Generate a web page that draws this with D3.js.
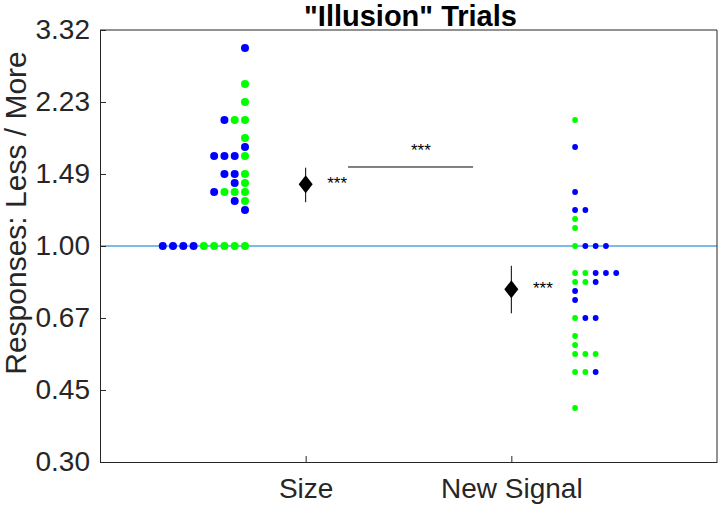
<!DOCTYPE html>
<html>
<head>
<meta charset="utf-8">
<script src="https://cdn.jsdelivr.net/npm/d3@7"></script>
<style>
  body { margin: 0; background: #fff; }
  text { font-family: "Liberation Sans", Arial, sans-serif; }
</style>
</head>
<body>
<div id="chart"></div>
<script>
// categories + tick labels
var categories = ["Size", "New Signal"];
var yTicks = [0.30, 0.45, 0.67, 1.00, 1.49, 2.23, 3.32];

// individual ratios per condition
var sizeBlue  = [3.00, 2.01, 1.73, 1.65, 1.65, 1.65, 1.49, 1.49, 1.42, 1.35, 1.28, 1.22, 1, 1, 1, 1];
var sizeGreen = [2.46, 2.23, 2.01, 2.01, 1.82, 1.65, 1.49, 1.42, 1.35, 1.35, 1.35, 1.28, 1, 1, 1, 1, 1];
var newBlue   = [1.73, 1.35, 1.22, 1.22, 1, 1, 1, 0.86, 0.86, 0.86, 0.82, 0.78, 0.74, 0.67, 0.67, 0.50];
var newGreen  = [2.01, 1.16, 1.11, 1, 0.86, 0.86, 0.82, 0.82, 0.67, 0.61, 0.58, 0.55, 0.55, 0.55, 0.50, 0.50, 0.41];

// group means with error bars
var means  = [1.41, 0.786];
var errLow = [1.275, 0.688];
var errHigh = [1.545, 0.896];

var margin = {top: 30, right: 6, bottom: 47, left: 100};
var width = 723 - margin.left - margin.right,
    height = 509 - margin.top - margin.bottom;

var svg = d3.select("#chart").append("svg")
    .attr("width", 723)
    .attr("height", 509);

var g = svg.append("g")
    .attr("transform", "translate(" + margin.left + "," + margin.top + ")");

var x = d3.scaleLinear().domain([0, 3]).range([0, width]);
var y = d3.scaleLog().domain([Math.exp(-1.2), Math.exp(1.2)]).range([height, 0]);

var blue = "#0000ff", green = "#00ff00";

// reference line at 1
g.append("line")
    .attr("x1", 0).attr("x2", width)
    .attr("y1", y(1)).attr("y2", y(1))
    .attr("stroke", "#4fa3e2")
    .attr("stroke-width", 1.3);

// stack the points into rows (binned in log space), green nearest the anchor
function swarm(greens, blues, anchor, dir, r) {
    var rows = {};
    greens.forEach(function(v) {
        var k = Math.round(Math.log(v) / 0.05);
        (rows[k] = rows[k] || []).push(green);
    });
    blues.forEach(function(v) {
        var k = Math.round(Math.log(v) / 0.05);
        (rows[k] = rows[k] || []).push(blue);
    });
    var pts = [];
    Object.keys(rows).forEach(function(k) {
        rows[k].forEach(function(c, i) {
            pts.push({x: anchor + dir * i * 0.05, v: Math.exp(k * 0.05), c: c, r: r});
        });
    });
    return pts;
}

var points = swarm(sizeGreen, sizeBlue, 1 - 0.295, -1, 4)
    .concat(swarm(newGreen, newBlue, 2 + 0.31, 1, 2.9));

g.selectAll(".dot")
    .data(points)
    .enter().append("circle")
    .attr("class", "dot")
    .attr("cx", function(d) { return x(d.x); })
    .attr("cy", function(d) { return y(d.v); })
    .attr("r", function(d) { return d.r; })
    .attr("fill", function(d) { return d.c; });

// means: error bar + diamond
var meanData = means.map(function(m, i) {
    return {x: i + 1, m: m, lo: errLow[i], hi: errHigh[i]};
});

g.selectAll(".err")
    .data(meanData)
    .enter().append("line")
    .attr("class", "err")
    .attr("x1", function(d) { return x(d.x); })
    .attr("x2", function(d) { return x(d.x); })
    .attr("y1", function(d) { return y(d.lo); })
    .attr("y2", function(d) { return y(d.hi); })
    .attr("stroke", "#000")
    .attr("stroke-width", 1);

g.selectAll(".diamond")
    .data(meanData)
    .enter().append("path")
    .attr("class", "diamond")
    .attr("d", "M0,-9L7,0L0,9L-7,0Z")
    .attr("transform", function(d) { return "translate(" + x(d.x) + "," + y(d.m) + ")"; })
    .attr("fill", "#000");

g.selectAll(".star")
    .data(meanData)
    .enter().append("text")
    .attr("class", "star")
    .attr("x", function(d) { return x(d.x + 0.105); })
    .attr("y", function(d) { return y(d.m) + 5; })
    .attr("font-size", 17)
    .text("***");

// comparison between the two conditions
g.append("line")
    .attr("x1", x(1.206)).attr("x2", x(1.814))
    .attr("y1", y(1.551)).attr("y2", y(1.551))
    .attr("stroke", "#000");

g.append("text")
    .attr("x", x(1.56))
    .attr("y", y(1.551) - 11)
    .attr("text-anchor", "middle")
    .attr("font-size", 17)
    .text("***");

// axes
var yAxis = d3.axisLeft(y)
    .tickValues(yTicks.map(function(t, i) { return Math.exp(-1.2 + 0.4 * i); }))
    .tickFormat(function(d, i) { return yTicks[i].toFixed(2); })
    .tickSizeInner(-6).tickSizeOuter(0).tickPadding(10);

var xAxis = d3.axisBottom(x)
    .tickValues([1, 2])
    .tickFormat(function(d) { return categories[d - 1]; })
    .tickSizeInner(-6).tickSizeOuter(0).tickPadding(16);

var axisColor = "#262626";

var gy = g.append("g").call(yAxis);
var gx = g.append("g").attr("transform", "translate(0," + height + ")").call(xAxis);

[gx, gy].forEach(function(a) {
    a.select(".domain").attr("stroke", axisColor);
    a.selectAll(".tick line").attr("stroke", axisColor);
    a.selectAll(".tick text")
        .attr("fill", "#262626")
        .attr("font-size", 28)
        .style("font-family", "'Liberation Sans', Arial, sans-serif");
});

// box lines top + right
g.append("line").attr("x1", 0).attr("x2", width).attr("y1", 0).attr("y2", 0).attr("stroke", axisColor);
g.append("line").attr("x1", width).attr("x2", width).attr("y1", 0).attr("y2", height).attr("stroke", axisColor);

// labels
svg.append("text")
    .attr("x", margin.left + width / 2 + 2)
    .attr("y", 26)
    .attr("text-anchor", "middle")
    .attr("font-size", 29)
    .attr("font-weight", "bold")
    .text("\"Illusion\" Trials");

svg.append("text")
    .attr("transform", "translate(26,213) rotate(-90)")
    .attr("text-anchor", "middle")
    .attr("font-size", 30)
    .attr("fill", "#262626")
    .text("Responses: Less / More");
</script>
</body>
</html>
